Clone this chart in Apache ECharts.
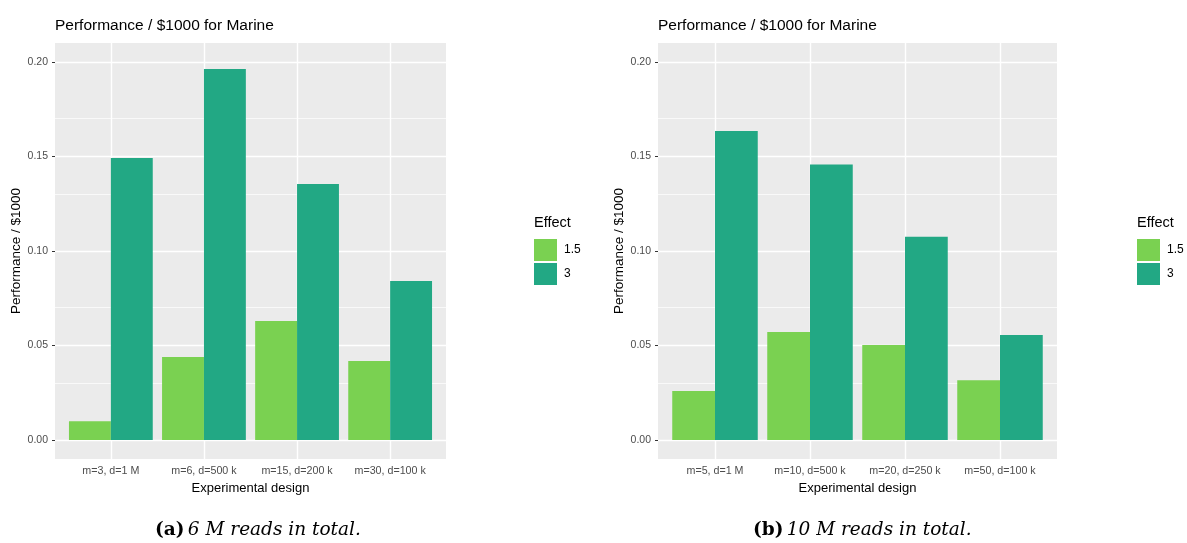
<!DOCTYPE html>
<html>
<head>
<meta charset="utf-8">
<script src="https://cdn.jsdelivr.net/npm/echarts@6/dist/echarts.min.js"></script>
<style>
html,body{margin:0;padding:0;background:#fff;}
#chart{width:1187px;height:543px;}
</style>
</head>
<body>
<div id="chart"></div>
<script>
// ---- data ----
const categoriesA = ['m=3, d=1 M', 'm=6, d=500 k', 'm=15, d=200 k', 'm=30, d=100 k'];
const categoriesB = ['m=5, d=1 M', 'm=10, d=500 k', 'm=20, d=250 k', 'm=50, d=100 k'];
const effectNames = ['1.5', '3'];
const effect15A = [0.0100, 0.0439, 0.0630, 0.0418];
const effect3A  = [0.1492, 0.1963, 0.1354, 0.0841];
const effect15B = [0.0259, 0.0571, 0.0503, 0.0317];
const effect3B  = [0.1635, 0.1457, 0.1076, 0.0556];
const yMajorTicks = [0, 0.05, 0.10, 0.15, 0.20];
const yMinorTicks = [0.025, 0.075, 0.125, 0.175];
const panelTitle = 'Performance / $1000 for Marine';
const yTitle = 'Performance / $1000';
const xTitle = 'Experimental design';
const legendTitle = 'Effect';
const captionA = ['(a)', '6 M reads in total.'];
const captionB = ['(b)', '10 M reads in total.'];

const colors = ['#7AD151', '#22A884'];
const FONT = '"Liberation Sans", Arial, Helvetica, sans-serif';
const SERIF = '"DejaVu Serif", "Liberation Serif", serif';

function positions(cats) { return cats.map((c, i) => i + 1); }

function gridLineSeries(gi, cats) {
  const data = [];
  yMinorTicks.forEach(v => data.push({ yAxis: v, lineStyle: { width: 0.7 } }));
  yMajorTicks.forEach(v => data.push({ yAxis: v, lineStyle: { width: 1.4 } }));
  positions(cats).forEach(v => data.push({ xAxis: v, lineStyle: { width: 1.4 } }));
  return {
    type: 'line', name: 'grid' + gi, xAxisIndex: gi, yAxisIndex: gi, data: [],
    silent: true, z: 1, animation: false,
    markLine: {
      silent: true, z: 1, symbol: ['none', 'none'], animation: false,
      label: { show: false },
      lineStyle: { color: '#FFFFFF', type: 'solid', opacity: 1 },
      emphasis: { disabled: true },
      data: data
    }
  };
}

function xAxisFor(gi, cats) {
  return {
    type: 'value', gridIndex: gi, min: 0.4, max: cats.length + 0.6,
    axisLine: { show: false },
    splitLine: { show: false },
    axisTick: { show: true, customValues: positions(cats), length: 3, lineStyle: { color: '#333333', width: 1 } },
    axisLabel: {
      customValues: positions(cats), margin: 7, color: '#4D4D4D', fontSize: 10.7, fontFamily: FONT,
      formatter: v => cats[Math.round(v) - 1]
    },
    name: xTitle, nameLocation: 'middle', nameGap: 22,
    nameTextStyle: { color: '#000', fontSize: 13, fontFamily: FONT, verticalAlign: 'top' }
  };
}

function yAxisFor(gi) {
  return {
    type: 'value', gridIndex: gi, min: -0.01, max: 0.21,
    axisLine: { show: false },
    splitLine: { show: false },
    axisTick: { show: true, customValues: yMajorTicks, length: 3, lineStyle: { color: '#333333', width: 1 } },
    axisLabel: {
      customValues: yMajorTicks, margin: 7, color: '#4D4D4D', fontSize: 10.5, fontFamily: FONT,
      formatter: v => v.toFixed(2)
    },
    name: yTitle, nameLocation: 'middle', nameRotate: 90, nameGap: 29,
    nameTextStyle: { color: '#000', fontSize: 13.5, fontFamily: FONT }
  };
}

function barSeries(gi, vals, ci) {
  return {
    type: 'bar', name: effectNames[ci], xAxisIndex: gi, yAxisIndex: gi,
    data: vals.map((v, i) => [i + 1, v]),
    barCategoryGap: '10%', barGap: '0%', z: 2,
    itemStyle: { color: colors[ci] },
    emphasis: { disabled: true },
    animation: false
  };
}

function legendFor(left) {
  return {
    left: left, top: 239, orient: 'vertical', icon: 'rect',
    itemWidth: 23, itemHeight: 22, itemGap: 2,
    data: effectNames, selectedMode: false,
    textStyle: { color: '#000', fontSize: 12, fontFamily: FONT, padding: [0, 0, 0, 2] },
    padding: 0
  };
}

function caption(x, parts) {
  return {
    type: 'text', left: x, top: 521,
    style: {
      text: '{b|' + parts[0] + '} {i|' + parts[1] + '}',
      rich: {
        b: { fontFamily: SERIF, fontWeight: 'bold', fontSize: 18.5, fill: '#000' },
        i: { fontFamily: SERIF, fontStyle: 'italic', fontSize: 18.5, fill: '#000' }
      }
    }
  };
}

const chart = echarts.init(document.getElementById('chart'), null, { renderer: 'canvas' });
chart.setOption({
  animation: false,
  backgroundColor: '#FFFFFF',
  title: [
    { text: panelTitle, left: 55, top: 18, padding: 0, textStyle: { color: '#000', fontSize: 15.5, fontWeight: 'normal', fontFamily: FONT } },
    { text: panelTitle, left: 658, top: 18, padding: 0, textStyle: { color: '#000', fontSize: 15.5, fontWeight: 'normal', fontFamily: FONT } }
  ],
  grid: [
    { left: 55, top: 43, width: 391, height: 416, show: true, backgroundColor: '#EBEBEB', borderWidth: 0 },
    { left: 658, top: 43, width: 399, height: 416, show: true, backgroundColor: '#EBEBEB', borderWidth: 0 }
  ],
  xAxis: [xAxisFor(0, categoriesA), xAxisFor(1, categoriesB)],
  yAxis: [yAxisFor(0), yAxisFor(1)],
  legend: [legendFor(534), legendFor(1137)],
  series: [
    gridLineSeries(0, categoriesA),
    gridLineSeries(1, categoriesB),
    barSeries(0, effect15A, 0),
    barSeries(0, effect3A, 1),
    barSeries(1, effect15B, 0),
    barSeries(1, effect3B, 1)
  ],
  graphic: [
    { type: 'text', left: 534, top: 215, style: { text: legendTitle, fontFamily: FONT, fontSize: 14.5, fill: '#000' } },
    { type: 'text', left: 1137, top: 215, style: { text: legendTitle, fontFamily: FONT, fontSize: 14.5, fill: '#000' } },
    caption(155, captionA),
    caption(753, captionB)
  ]
});
</script>
</body>
</html>
